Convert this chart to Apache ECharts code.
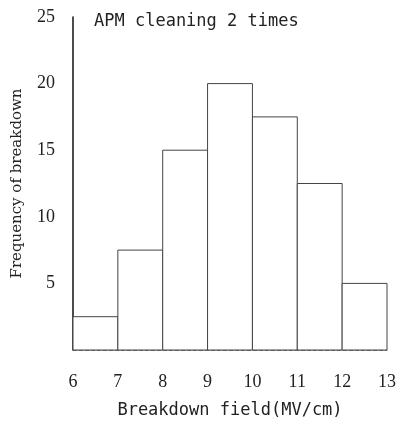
<!DOCTYPE html>
<html>
<head>
<meta charset="utf-8">
<script src="https://cdn.jsdelivr.net/npm/echarts@6/dist/echarts.min.js"></script>
<style>
  html, body { margin: 0; padding: 0; background: #fff; }
  #main { width: 411px; height: 428px; }
</style>
</head>
<body>
<div id="main"></div>
<script>
// histogram bins (MV/cm) and counts
var binStarts = [6, 7, 8, 9, 10, 11, 12];
var binEnds = [7, 8, 9, 10, 11, 12, 13];
var frequencies = [2.5, 7.5, 15, 20, 17.5, 12.5, 5];
var yTicks = [5, 10, 15, 20, 25];

var chart = echarts.init(document.getElementById('main'));

var histData = binStarts.map(function (s, i) {
    return [s, binEnds[i], frequencies[i]];
});

chart.setOption({
    animation: false,
    backgroundColor: '#fff',
    title: {
        text: 'APM cleaning 2 times',
        left: 89,
        top: 8,
        textStyle: { fontFamily: 'DejaVu Sans Mono', fontSize: 17, fontWeight: 'normal', color: '#222' }
    },
    grid: { left: 73, right: 24, top: 17, bottom: 78 },
    xAxis: {
        type: 'value',
        min: 6,
        max: 13,
        interval: 1,
        name: 'Breakdown field(MV/cm)',
        nameLocation: 'middle',
        nameGap: 52,
        nameTextStyle: { fontFamily: 'DejaVu Sans Mono', fontSize: 17, color: '#222' },
        axisLine: { show: true, lineStyle: { color: '#777', width: 1, type: 'dashed' } },
        axisTick: { show: false },
        splitLine: { show: false },
        axisLabel: { margin: 23, fontFamily: 'Liberation Serif', fontSize: 18, color: '#222' }
    },
    yAxis: {
        type: 'value',
        min: 0,
        max: 25,
        interval: 5,
        name: 'Frequency of breakdown',
        nameLocation: 'middle',
        nameGap: 48,
        nameTextStyle: { fontFamily: 'DejaVu Serif', fontSize: 15, color: '#222' },
        axisLine: { show: true, lineStyle: { color: '#111', width: 1.5 } },
        axisTick: { show: false },
        splitLine: { show: false },
        axisLabel: {
            margin: 18,
            fontFamily: 'Liberation Serif',
            fontSize: 18,
            color: '#222',
            formatter: function (v) { return yTicks.indexOf(v) >= 0 ? String(v) : ''; }
        }
    },
    series: [{
        type: 'custom',
        data: histData,
        encode: { x: [0, 1], y: 2 },
        renderItem: function (params, api) {
            var p0 = api.coord([api.value(0), 0]);
            var p1 = api.coord([api.value(1), api.value(2)]);
            return {
                type: 'rect',
                shape: { x: p0[0], y: p1[1], width: p1[0] - p0[0], height: p0[1] - p1[1] },
                style: { fill: '#fff', stroke: '#444', lineWidth: 1 }
            };
        }
    }]
});
</script>
</body>
</html>
